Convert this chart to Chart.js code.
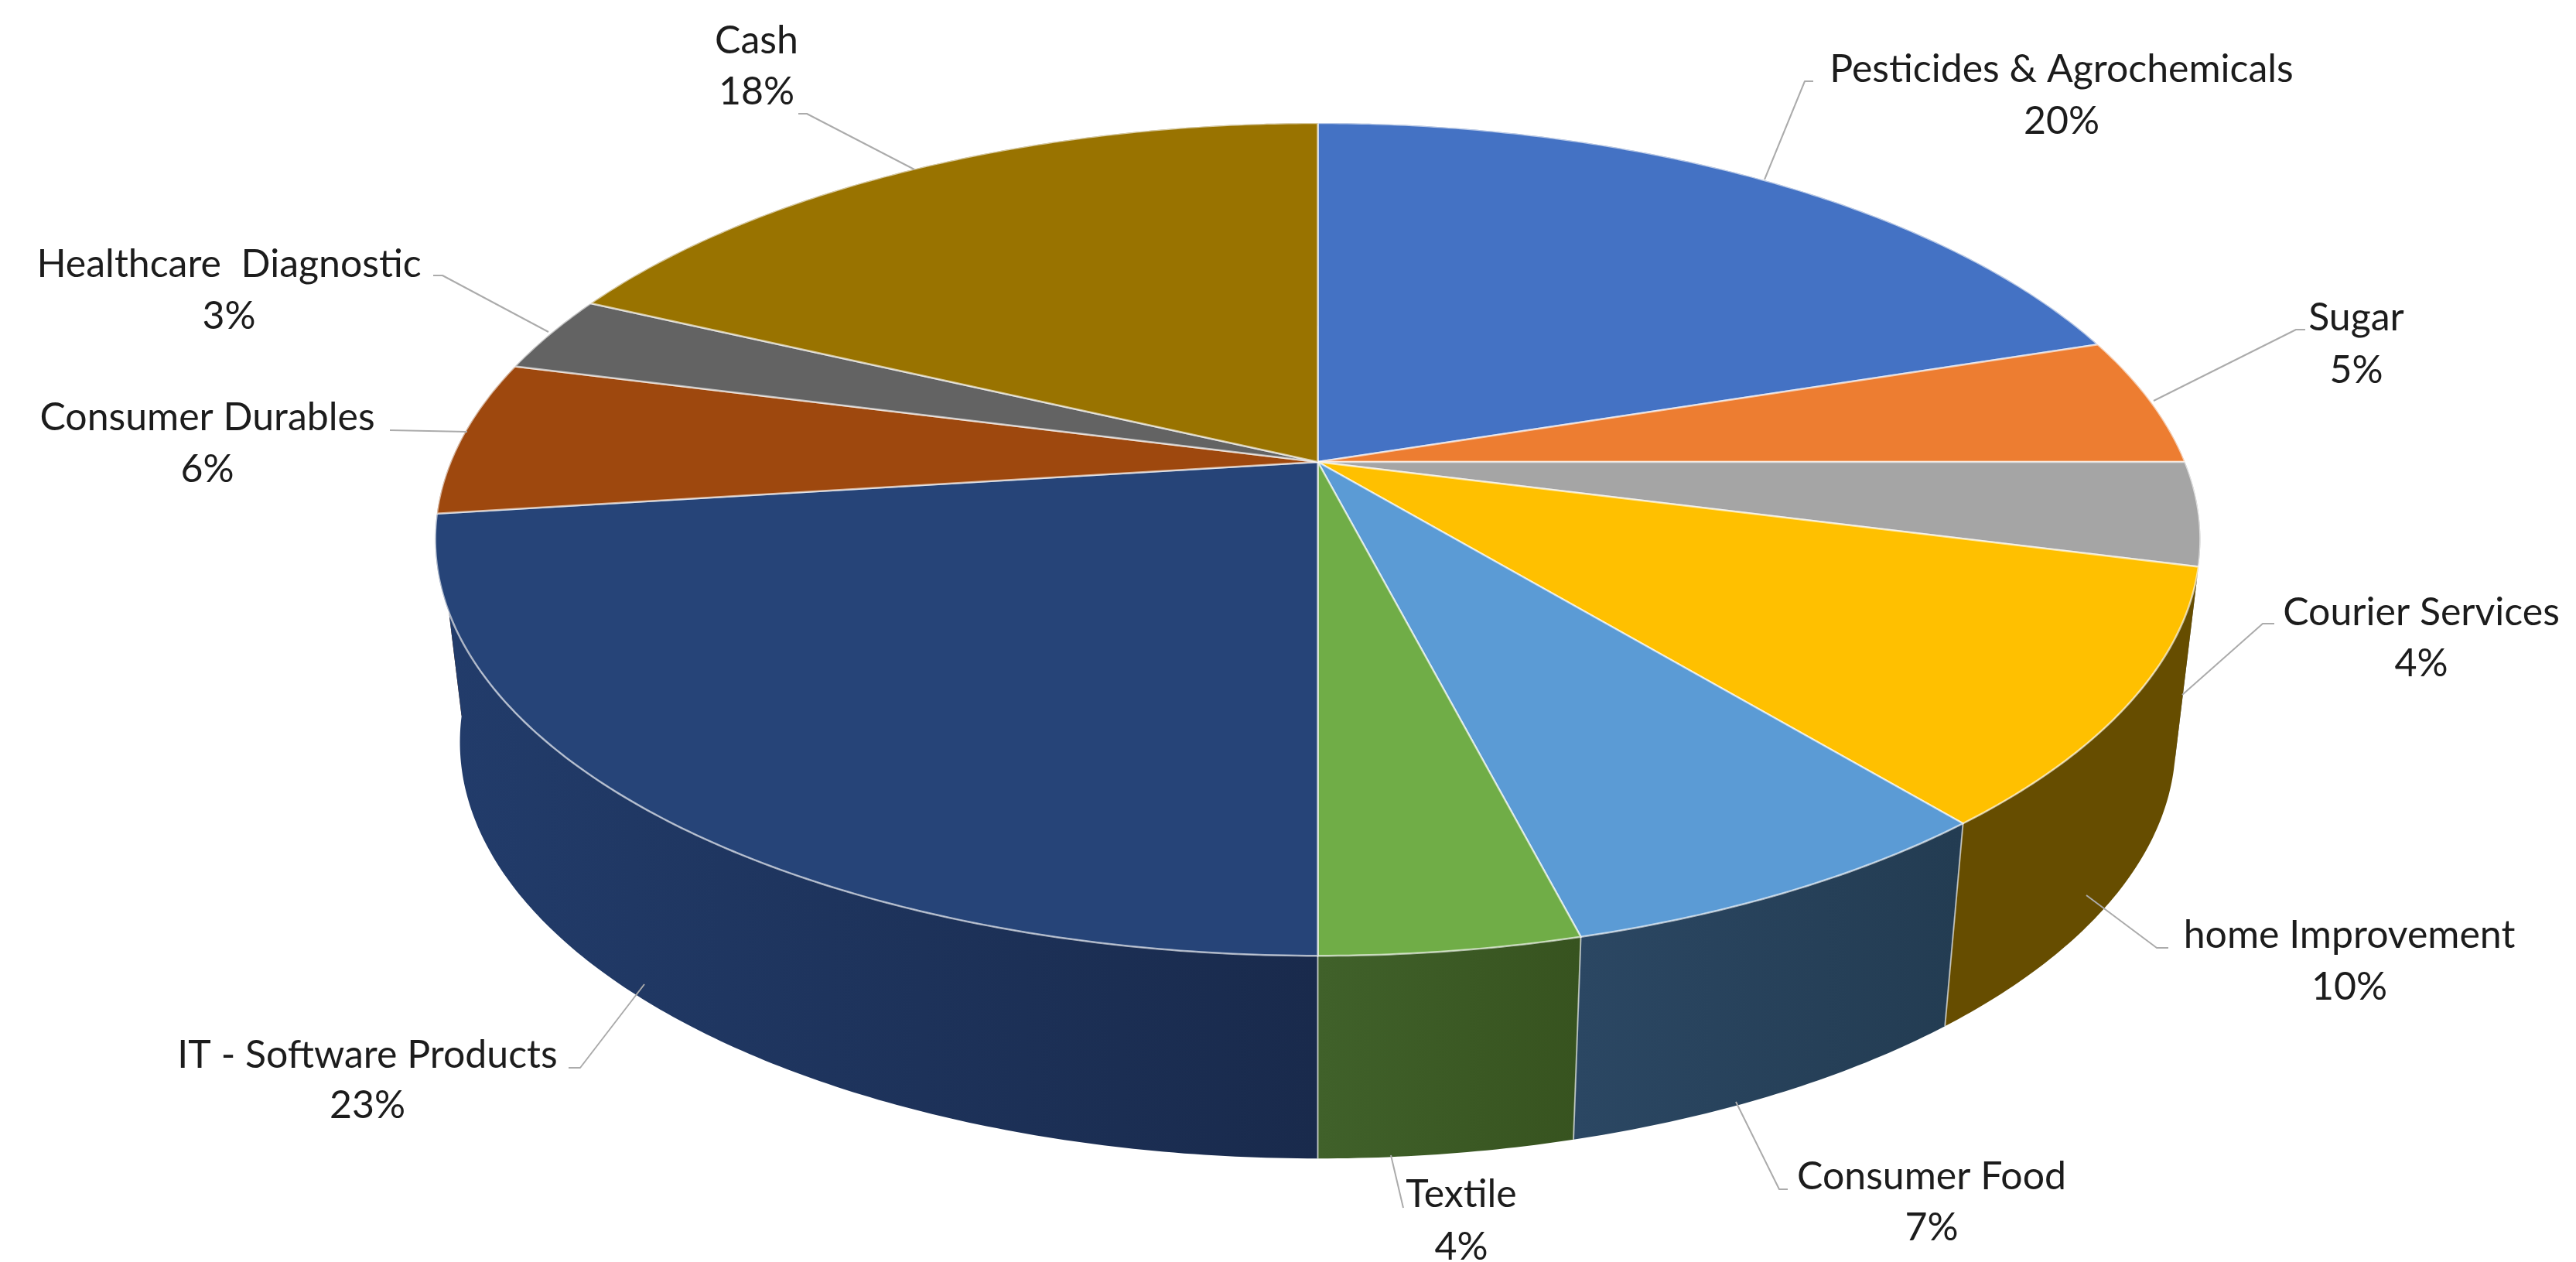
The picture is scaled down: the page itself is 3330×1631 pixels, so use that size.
<!DOCTYPE html>
<html>
<head>
<meta charset="utf-8">
<style>
  html, body { margin: 0; padding: 0; background: #ffffff; }
  canvas { display: block; }
</style>
<script src="https://cdn.jsdelivr.net/npm/chart.js@4/dist/chart.umd.min.js"></script>
</head>
<body>
<canvas id="portfolio" width="3330" height="1631"></canvas>
<script>
// Portfolio allocation, in reading order clockwise from twelve o'clock.
const categories = [
  "Pesticides & Agrochemicals", "Sugar", "Courier Services", "home Improvement",
  "Consumer Food", "Textile", "IT - Software Products", "Consumer Durables",
  "Healthcare  Diagnostic", "Cash"
];
const shares = [20, 5, 4, 10, 7, 4, 23, 6, 3, 18];

const topColors = ["#4472C4", "#ED7D31", "#A5A5A5", "#FFC000", "#5B9BD5", "#70AD47", "#264478", "#9E480E", "#636363", "#997300"];
const wallLeftColors = ["#2C4A7F", "#8F4B1D", "#636363", "#664D00", "#2B4763", "#40612A", "#223C6B", "#5F2B08", "#3B3B3B", "#5C4500"];
const wallRightColors = ["#2C4A7F", "#8F4B1D", "#636363", "#664D00", "#233C52", "#37531F", "#192A4C", "#5F2B08", "#3B3B3B", "#5C4500"];

// Data label text anchors: centre x and the baselines of the two lines.
const labelCentreX = [2665, 3046, 3130, 3037, 2497, 1889, 475, 268, 296, 978];
const labelNameY = [106, 427, 808, 1225, 1537, 1560, 1380, 556, 358, 69];
const labelShareY = [173, 495, 874, 1292, 1603, 1628, 1445, 623, 425, 135];

// Leader lines, from the pie edge to the label.
const leaderLines = [
  [[2281, 232], [2333, 105], [2344, 105]],
  [[2784, 518], [2968, 426], [2980, 426]],
  [[2821, 898], [2925, 806], [2940, 806]],
  [[2697, 1157], [2788, 1225], [2803, 1225]],
  [[2244, 1424], [2300, 1537], [2311, 1537]],
  [[1798, 1493], [1814, 1561]],
  [[833, 1272], [750, 1380], [735, 1380]],
  [[604, 558], [504, 556]],
  [[709, 429], [572, 356], [560, 356]],
  [[1182, 219], [1043, 147], [1032, 147]]
];

// Tilted disc: a projective map from the unit disc to the page.
const view = { x: 1703.5, y: 597, a: 1121, b: 519.5, tilt: 0.186, depth: 262, shrink: 0.972 };
const RIM_TOP_Y = view.y + view.b * view.tilt / (1 - view.tilt * view.tilt);

function onTop(angle, r) {
  const u = r * Math.sin(angle), v = -r * Math.cos(angle), w = 1 - view.tilt * v;
  return [view.x + view.a * u / w, view.y + view.b * v / w];
}
function onBottom(angle) {
  const p = onTop(angle, 1);
  return [view.x + view.shrink * (p[0] - view.x), p[1] + view.depth];
}
function rimAngles(el) {
  const start = el.startAngle + Math.PI / 2, end = el.endAngle + Math.PI / 2;
  const steps = Math.max(2, Math.ceil((end - start) / 0.01));
  const list = [];
  for (let i = 0; i <= steps; i++) list.push(start + (end - start) * i / steps);
  return list;
}

const tiltedPie = {
  id: "tiltedPie",
  beforeDatasetsDraw(chart) {
    const ctx = chart.ctx;
    const arcs = chart.getDatasetMeta(0).data;
    ctx.save();
    ctx.lineJoin = "round";

    // Walls, back of the disc first.
    const order = arcs.map((el, i) => i).sort((p, q) => {
      const a = onTop((arcs[p].startAngle + arcs[p].endAngle) / 2 + Math.PI / 2, 1)[1];
      const b = onTop((arcs[q].startAngle + arcs[q].endAngle) / 2 + Math.PI / 2, 1)[1];
      return a - b;
    });
    order.forEach(i => {
      const angles = rimAngles(arcs[i]);
      const upper = angles.map(t => onTop(t, 1));
      const lower = angles.map(onBottom).reverse();
      const outline = upper.concat(lower);
      const xs = outline.map(p => p[0]);
      const fill = ctx.createLinearGradient(Math.min(...xs), 0, Math.max(...xs), 0);
      fill.addColorStop(0, wallLeftColors[i]);
      fill.addColorStop(1, wallRightColors[i]);
      ctx.beginPath();
      outline.forEach((p, n) => n ? ctx.lineTo(p[0], p[1]) : ctx.moveTo(p[0], p[1]));
      ctx.closePath();
      ctx.fillStyle = fill;
      ctx.fill();
    });

    // Light seams where neighbouring walls meet on the near side.
    arcs.forEach(el => {
      const t = el.startAngle + Math.PI / 2;
      const p = onTop(t, 1), q = onBottom(t);
      if (p[1] > RIM_TOP_Y + 300) {
        ctx.beginPath();
        ctx.moveTo(p[0], p[1]);
        ctx.lineTo(q[0], q[1]);
        ctx.strokeStyle = "rgba(255,255,255,0.6)";
        ctx.lineWidth = 2;
        ctx.stroke();
      }
    });

    // Top face.
    arcs.forEach((el, i) => {
      ctx.beginPath();
      const c = onTop(0, 0);
      ctx.moveTo(c[0], c[1]);
      rimAngles(el).forEach(t => {
        const p = onTop(t, 1);
        ctx.lineTo(p[0], p[1]);
      });
      ctx.closePath();
      ctx.fillStyle = topColors[i];
      ctx.fill();
      ctx.strokeStyle = "rgba(255,255,255,0.62)";
      ctx.lineWidth = 2.5;
      ctx.stroke();
    });

    // Leader lines and data labels.
    ctx.strokeStyle = "#ABABAB";
    ctx.lineWidth = 2;
    leaderLines.forEach(path => {
      ctx.beginPath();
      path.forEach((p, n) => n ? ctx.lineTo(p[0], p[1]) : ctx.moveTo(p[0], p[1]));
      ctx.stroke();
    });
    const total = shares.reduce((s, v) => s + v, 0);
    ctx.font = '50px Lato';
    ctx.fillStyle = "#1c1c1c";
    ctx.textAlign = "center";
    ctx.textBaseline = "alphabetic";
    categories.forEach((name, i) => {
      ctx.fillText(name, labelCentreX[i], labelNameY[i]);
      ctx.fillText(Math.round(shares[i] / total * 100) + "%", labelCentreX[i], labelShareY[i]);
    });
    ctx.restore();
    return false;
  }
};

new Chart(document.getElementById("portfolio"), {
  type: "pie",
  data: {
    labels: categories,
    datasets: [{ data: shares, backgroundColor: topColors, borderColor: "#ffffff" }]
  },
  options: {
    responsive: false,
    animation: false,
    events: [],
    rotation: 0,
    plugins: { legend: { display: false }, tooltip: { enabled: false }, title: { display: false } }
  },
  plugins: [tiltedPie]
});
</script>
</body>
</html>
